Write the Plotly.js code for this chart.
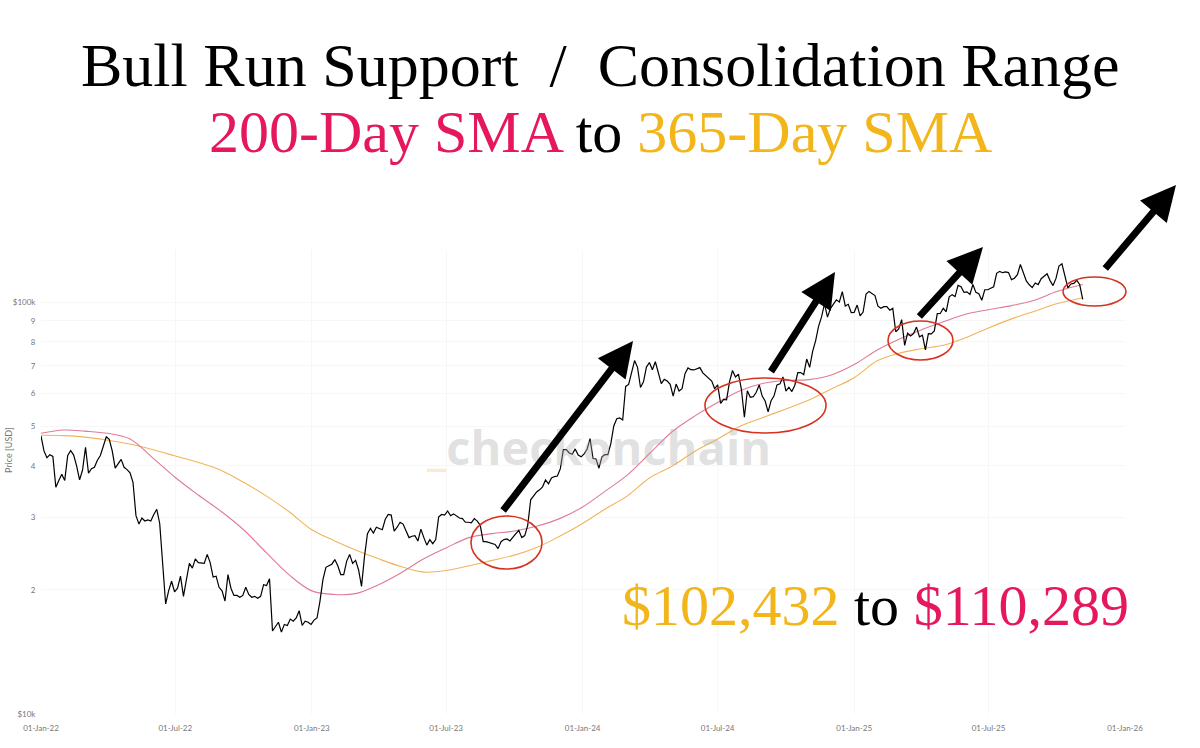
<!DOCTYPE html>
<html><head><meta charset="utf-8">
<script src="https://cdn.plot.ly/plotly-3.0.1.min.js"></script>
<style>html,body{margin:0;padding:0;background:#fff}#chart{width:1200px;height:748px}</style>
</head><body><div id="chart"></div>
<script>
// BTC price in $k, sampled every 4 days, one array per year with its own first date
const STEP_DAYS = 4;
const start2022 = '2022-01-01';
const price2022 = [
47.3, 43.5, 41.9, 42.6, 42.2, 35.5, 36.9, 38.2,
36.9, 42.4, 43.6, 42.5, 40.0, 37.0, 39.1,
44.4, 38.4, 39.4, 39.7, 41.3, 42.4, 44.5, 47.1,
46.4, 43.5, 39.5, 40.6, 41.5, 39.7, 39.2,
38.5, 36.5, 30.3, 28.9, 29.9, 29.4, 29.6, 29.4,
30.5, 31.4, 29.0, 22.5, 18.5, 19.9, 21.0, 19.8,
20.2, 21.6, 19.3, 21.2, 23.2, 22.6, 23.8,
23.3, 23.2, 23.2, 24.4, 23.3, 21.5, 21.6, 20.3,
19.9, 18.8, 21.8, 20.2, 19.4, 19.4, 19.2, 19.4,
20.3, 19.5, 19.2, 19.3, 19.1, 19.3, 20.6,
20.5, 21.3, 15.9, 16.3, 16.7, 15.8, 16.5, 16.4,
17.0, 16.8, 17.1, 17.8, 16.4, 16.8, 16.7, 16.5
];
const start2023 = '2023-01-04';
const price2023 = [
16.9, 17.1, 18.8, 21.2, 22.7, 22.9, 23.1,
23.7, 22.9, 21.8, 21.8, 23.5, 24.4, 23.2,
23.6, 22.4, 20.4, 24.1, 27.4, 28.2, 27.5, 28.4,
28.2, 28.0, 29.7, 30.5, 30.4, 27.8, 28.4, 29.2,
28.9, 27.7, 26.8, 27.0, 27.1, 26.3, 28.1,
26.8, 25.7, 26.5, 25.9, 26.5, 30.1, 30.5, 30.4,
31.1, 30.3, 30.6, 30.3, 29.9, 29.8, 29.2, 29.2,
29.1, 29.8, 29.4, 28.7, 26.2, 26.2, 26.1,
25.9, 25.8, 25.2, 26.2, 26.5, 26.6, 26.3, 26.9,
27.4, 27.9, 26.8, 27.1, 28.7, 33.1, 33.9, 34.6,
35.0, 35.6, 37.0, 36.2, 37.4, 37.7, 37.8,
39.4, 43.8, 43.8, 43.0, 42.7, 44.0, 42.5, 42.1
];
const start2024 = '2024-01-03';
const price2024 = [
42.8, 43.9, 46.6, 41.7, 41.6, 39.5, 42.1, 42.6,
42.6, 45.3, 50.0, 52.1, 52.3, 51.7, 62.4,
63.1, 67.0, 72.1, 69.4, 62.0, 64.0, 69.5, 71.3,
68.5, 71.6, 67.2, 63.4, 64.9, 64.3, 63.1,
59.1, 63.2, 60.8, 61.6, 67.0, 69.2, 68.5, 68.4,
68.8, 69.3, 67.3, 66.2, 65.0, 64.3, 61.6,
62.9, 56.7, 58.0, 57.9, 64.1, 68.2, 65.8, 66.8,
61.4, 52.5, 60.9, 58.7, 58.9, 60.4, 62.9, 59.1,
57.5, 54.1, 57.6, 59.2, 62.9, 63.3, 65.8,
60.8, 62.1, 60.6, 62.8, 67.4, 67.4, 66.6, 72.7,
69.4, 75.9, 80.5, 87.3, 92.0, 98.9, 91.9, 96.4,
98.8, 101.2, 100.0, 106.0, 97.8, 98.7, 94.3
];
const start2025 = '2025-01-01';
const price2025 = [
94.4, 98.3, 92.5, 94.5, 104.5, 106.1, 104.7, 103.7,
97.7, 96.6, 97.4, 97.5, 95.5, 96.5, 84.7,
86.0, 90.6, 78.5, 84.0, 82.7, 83.8, 86.9, 82.3,
83.1, 76.5, 83.8, 83.7, 85.1, 93.7, 93.8,
96.5, 94.7, 102.9, 104.2, 103.1, 109.7, 108.9, 105.6,
105.8, 104.3, 110.3, 105.5, 104.7, 101.0, 107.1, 107.1,
108.0, 108.9, 117.4, 118.7, 117.8, 118.3, 117.9,
113.3, 114.2, 116.5, 123.3, 117.5, 112.5, 110.1, 108.4,
111.2, 110.2, 113.9, 115.3, 117.1, 112.7, 109.6, 114.1,
122.3, 123.8, 115.1, 108.2, 110.6, 111.0, 112.9,
110.1, 101.5
];

// Moving averages in $k, read monthly
const smaDates = [
'2022-01-01','2022-02-01','2022-03-01','2022-04-01','2022-05-01','2022-06-01','2022-07-01','2022-08-01','2022-09-01','2022-10-01','2022-11-01','2022-12-01',
'2023-01-01','2023-02-01','2023-03-01','2023-04-01','2023-05-01','2023-06-01','2023-07-01','2023-08-01','2023-09-01','2023-10-01','2023-11-01','2023-12-01',
'2024-01-01','2024-02-01','2024-03-01','2024-04-01','2024-05-01','2024-06-01','2024-07-01','2024-08-01','2024-09-01','2024-10-01','2024-11-01','2024-12-01',
'2025-01-01','2025-02-01','2025-03-01','2025-04-01','2025-05-01','2025-06-01','2025-07-01','2025-08-01','2025-09-01','2025-10-01','2025-11-01','2025-11-05'
];
const sma200 = [
48.0, 48.9, 48.6, 48.0, 46.5, 41.8, 37.5, 34.0, 31.0, 28.0, 24.6, 21.8,
19.9, 19.5, 19.6, 20.6, 22.0, 23.8, 25.3, 26.8, 27.4, 27.8, 28.6, 29.8,
31.8, 34.8, 38.0, 43.0, 48.5, 53.0, 57.0, 61.0, 63.5, 64.5, 64.8, 66.5,
70.5, 76.5, 81.0, 85.5, 89.5, 93.5, 95.8, 98.0, 101.0, 106.0, 109.8, 110.289
];
const sma365 = [
47.5, 47.4, 47.0, 46.2, 45.2, 43.8, 42.3, 40.8, 39.0, 36.5, 33.8, 31.0,
28.0, 26.3, 25.0, 23.8, 22.8, 22.1, 22.3, 22.9, 23.6, 24.3, 25.4, 27.0,
29.0, 31.5, 33.8, 37.5, 40.0, 43.5, 46.5, 50.0, 52.5, 55.0, 57.8, 61.5,
65.5, 72.0, 75.0, 77.0, 78.5, 82.0, 86.5, 91.0, 95.0, 99.0, 102.0, 102.432
];

const yTickVals = [10, 20, 30, 40, 50, 60, 70, 80, 90, 100];
const yTickText = ['$10k', '2', '3', '4', '5', '6', '7', '8', '9', '$100k'];

const titleLine1 = 'Bull Run Support  /  Consolidation Range';
const titleLine2 = "<span style='color:#e5175e'>200-Day SMA</span> to <span style='color:#f2b51a'>365-Day SMA</span>";
const rangeText = "<span style='color:#f2b51a'>$102,432</span> to <span style='color:#e5175e'>$110,289</span>";

function datesFrom(start, n) {
  const t0 = Date.parse(start + 'T00:00:00Z');
  const out = [];
  for (let i = 0; i < n; i++) out.push(new Date(t0 + i * STEP_DAYS * 86400000).toISOString().slice(0, 10));
  return out;
}
const px = [].concat(
  datesFrom(start2022, price2022.length),
  datesFrom(start2023, price2023.length),
  datesFrom(start2024, price2024.length),
  datesFrom(start2025, price2025.length)
);
const py = [].concat(price2022, price2023, price2024, price2025);

const traces = [
  {x: smaDates, y: sma365, type: 'scatter', mode: 'lines', line: {color: '#f2b45a', width: 1.1, shape: 'spline'}, name: '365-Day SMA'},
  {x: smaDates, y: sma200, type: 'scatter', mode: 'lines', line: {color: '#e07a98', width: 1.1, shape: 'spline'}, name: '200-Day SMA'},
  {x: px, y: py, type: 'scatter', mode: 'lines', line: {color: '#000', width: 1.2}, name: 'Price'}
];

// Pixel-to-paper helpers for the decorative overlay (plot area 41..1125 x, 250..714 y)
const PL = 41, PW = 1084, PB = 714, PH = 464;
const fx = p => (p - PL) / PW;
const fy = p => (PB - p) / PH;

function arrow(tipX, tipY, tailX, tailY) {
  return {xref: 'paper', yref: 'paper', x: fx(tipX), y: fy(tipY), ax: tailX - tipX, ay: tailY - tipY,
    text: '', showarrow: true, arrowhead: 2, arrowsize: 1.0, arrowwidth: 7, arrowcolor: '#000', standoff: 0, startstandoff: 0};
}
function ellipse(x0, y0, x1, y1) {
  return {type: 'circle', xref: 'paper', yref: 'paper', x0: fx(x0), x1: fx(x1), y0: fy(y1), y1: fy(y0),
    line: {color: '#d7321f', width: 1.6}, fillcolor: 'rgba(0,0,0,0)'};
}

const layout = {
  width: 1200, height: 748,
  paper_bgcolor: '#fff', plot_bgcolor: '#fff',
  margin: {l: PL, r: 1200 - PL - PW, t: 250, b: 748 - PB},
  showlegend: false,
  xaxis: {
    type: 'date', range: ['2022-01-01', '2026-01-01'],
    tick0: '2022-01-01', dtick: 'M6', tickformat: '%d-%b-%y',
    showgrid: true, gridcolor: '#f7f7f7', zeroline: false, showline: false,
    ticks: 'outside', ticklen: 6, tickcolor: 'rgba(0,0,0,0)',
    tickfont: {family: 'Lato, sans-serif', size: 8, color: '#777'}, automargin: false
  },
  yaxis: {
    type: 'log', range: [1, 1 + PH / 412],
    tickvals: yTickVals, ticktext: yTickText,
    showgrid: true, gridcolor: '#f7f7f7', zeroline: false, showline: false,
    ticks: 'outside', ticklen: 3, tickcolor: 'rgba(0,0,0,0)',
    tickfont: {family: 'Lato, sans-serif', size: 8, color: '#777'}, automargin: false
  },
  shapes: [
    ellipse(471, 516, 542, 569),
    ellipse(705, 378, 826, 433),
    ellipse(888, 321, 953, 360),
    ellipse(1063, 277, 1126, 306)
  ],
  annotations: [
    {xref: 'paper', yref: 'paper', x: fx(598), y: fy(447), xanchor: 'center', yanchor: 'middle', showarrow: false,
      text: "<span style='color:rgba(247,180,100,0.75)'>_</span>checkonchain",
      font: {family: 'Open Sans, sans-serif', size: 47, color: 'rgba(175,175,175,0.38)', weight: 'bold'}},
    {xref: 'paper', yref: 'paper', x: fx(8), y: fy(450), xanchor: 'center', yanchor: 'middle', showarrow: false,
      text: 'Price [USD]', textangle: -90, font: {family: 'Lato, sans-serif', size: 9, color: '#777'}},
    arrow(633, 341, 502, 512),
    arrow(835, 272, 770, 373),
    arrow(983, 247, 918, 318),
    arrow(1176, 185, 1104, 270),
    {xref: 'paper', yref: 'paper', x: fx(600), y: fy(65), xanchor: 'center', yanchor: 'middle', showarrow: false,
      text: titleLine1, font: {family: 'Liberation Serif, serif', size: 62, color: '#000'}},
    {xref: 'paper', yref: 'paper', x: fx(600), y: fy(132), xanchor: 'center', yanchor: 'middle', showarrow: false,
      text: titleLine2, font: {family: 'Liberation Serif, serif', size: 60, color: '#000'}},
    {xref: 'paper', yref: 'paper', x: fx(875), y: fy(605), xanchor: 'center', yanchor: 'middle', showarrow: false,
      text: rangeText, font: {family: 'Liberation Serif, serif', size: 58, color: '#000'}}
  ]
};

Plotly.newPlot('chart', traces, layout, {displayModeBar: false, staticPlot: true});
</script>
</body></html>
